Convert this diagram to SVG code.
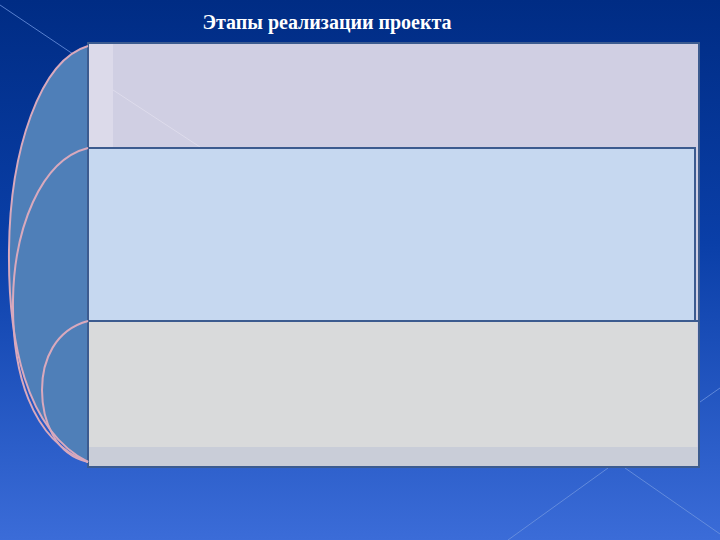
<svg xmlns="http://www.w3.org/2000/svg" width="720" height="540" viewBox="0 0 720 540">
<defs>
<linearGradient id="bg" x1="0" y1="0" x2="0" y2="1">
<stop offset="0" stop-color="#002c84"/>
<stop offset="0.45" stop-color="#0a3fa8"/>
<stop offset="1" stop-color="#3b6cd8"/>
</linearGradient>
<style>
.arc{fill:none;stroke:#d9a9bd;stroke-width:2}
.frame{stroke:#3c5b8f;stroke-width:2}
.faint{stroke:#6f95e0;stroke-width:1;opacity:0.8}
</style>
</defs>
<rect width="720" height="540" fill="url(#bg)"/>
<g id="bg-lines">
<line class="faint" x1="0" y1="5" x2="76" y2="56"/>
<line class="faint" x1="608" y1="468" x2="508" y2="540"/>
<line class="faint" x1="625" y1="468" x2="720" y2="534"/>
<line class="faint" x1="700" y1="402" x2="720" y2="388"/>
</g>
<g id="left-shape">
<path d="M88,46 C40,60 10,150 9,250 C8,340 25,430 88,462 Z" fill="#4f7fb8"/>
</g>
<g id="frame">
<rect class="frame" x="88" y="43" width="611" height="424" fill="#d0cfe3"/>
<rect x="89" y="44" width="24" height="103" fill="#dcdaea"/>
<line x1="113" y1="90" x2="200" y2="147" stroke="#dedcec" stroke-width="1"/>
</g>
<g id="stage2">
<rect class="frame" x="88" y="148" width="607" height="173" fill="#c6d8f0"/>
</g>
<g id="stage3">
<rect x="89" y="322" width="608" height="125" fill="#d9dadb"/>
<rect x="89" y="447" width="609" height="19" fill="#c9cdd8"/>
<line class="frame" x1="88" y1="321" x2="699" y2="321"/>
<line class="frame" x1="88" y1="321" x2="88" y2="467"/>
</g>
<g id="connectors">
<path class="arc" d="M88,46 C40,60 10,150 9,250 C8,340 25,430 88,462"/>
<path class="arc" d="M88,148 C40,160 14,230 13,300 C12,370 30,440 88,462"/>
<path class="arc" d="M88,321 C55,330 42,360 42,390 C42,420 55,455 88,462"/>
</g>
<g id="title">
<text x="327" y="29" text-anchor="middle" font-family="'Liberation Serif', serif" font-weight="bold" font-size="20" fill="#ffffff">Этапы реализации проекта</text>
</g>
</svg>
